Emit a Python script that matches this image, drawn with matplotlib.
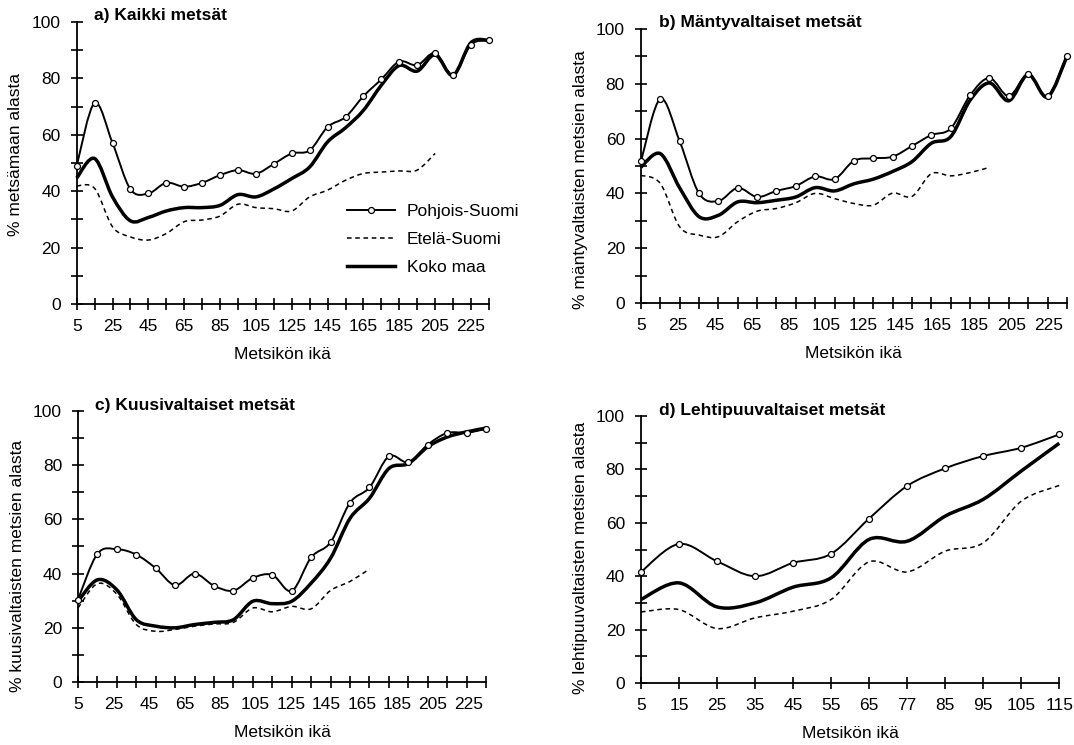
import numpy as np
import matplotlib
matplotlib.use("Agg")
import matplotlib.pyplot as plt
from matplotlib.path import Path
from matplotlib.patches import PathPatch
from matplotlib.lines import Line2D

plt.rcParams["font.family"] = ["Liberation Sans", "DejaVu Sans"]
plt.rcParams["font.size"] = 12.5

# a) all forests, ages 5..235
a_ages = list(range(5, 236, 10))
a_pohjois = [49, 71.3, 57.1, 40.7, 39.2, 43, 41.6, 43, 45.7, 47.5, 46.2, 49.7,
             53.4, 54.5, 62.8, 66.3, 73.7, 79.7, 86, 84.7, 89, 81.3, 92, 93.5]
a_etela = [41.9, 41, 27.4, 23.8, 22.7, 25, 29.2, 29.8, 31.2, 35.4, 34.2, 33.8,
           33, 38, 40.4, 43.9, 46.3, 46.8, 47.2, 47.5, 53.4]
a_koko = [44.7, 51.6, 38, 29.5, 30.7, 33, 34.2, 34.2, 35, 38.8, 38, 40.8,
          44.5, 48.6, 57.5, 62.5, 68.7, 77.6, 84.6, 82.6, 88.4, 81.1, 92.7, 93.5]

# b) pine dominated, ages 5..225
b_ages = list(range(5, 226, 10))
b_pohjois = [51.7, 74.5, 59, 40, 37.2, 42, 38.7, 40.9, 42.7, 46.2, 45.2, 51.9,
             52.8, 53.4, 57.3, 61.3, 63.7, 75.8, 82.1, 75.5, 83.4, 75.5, 90.3]
b_etela = [46.6, 43.6, 27.8, 24.8, 24.2, 29.7, 33.5, 34.5, 36.6, 40, 38.1, 36.3,
           35.7, 40.1, 38.9, 47.2, 46.4, 47.6, 49.5]
b_koko = [49.6, 54.5, 42, 31.5, 32, 36.9, 36.6, 37.5, 38.7, 42.1, 40.9, 43.5,
          45.2, 48, 51.6, 58.3, 60.7, 74, 80.3, 73.8, 83.4, 75.2, 90]

# c) spruce dominated, ages 5..215
c_ages = list(range(5, 216, 10))
c_pohjois = [30.4, 47.3, 49, 47, 42, 35.7, 40, 35.5, 33.7, 38.4, 39.5, 33.6,
             46, 51.6, 66.2, 71.8, 83.3, 81.1, 87.6, 91.9, 92, 93.4]
c_etela = [27.3, 36.3, 32.4, 21.2, 18.7, 19.4, 20.6, 21.4, 22, 27.3, 25.9, 27.9,
           27, 33.8, 37.1, 41.7]
c_koko = [29.8, 37.7, 34, 23, 20.6, 20, 21.2, 22, 23, 29.8, 28.9, 29.8,
          36.5, 45.7, 60.4, 67.8, 78.8, 80.6, 86.8, 90.4, 92.3, 93.7]

# d) broadleaf dominated
d_ages = [5, 15, 25, 35, 45, 55, 65, 77, 85, 95, 105, 115]
d_pohjois = [41.6, 52.1, 45.6, 40, 45, 48.4, 61.6, 73.8, 80.4, 85, 88.1, 93.1]
d_etela = [26.6, 27.5, 20.4, 24.4, 26.9, 31.3, 45.4, 41.6, 49.4, 52.5, 68.1, 74]
d_koko = [31.3, 37.5, 28.5, 30, 35.9, 39.4, 53.8, 53.1, 62.5, 68.8, 79.4, 89.8]

wide_labels = [str(v) for v in range(5, 226, 20)]

series_names = ["Pohjois-Suomi", "Etelä-Suomi", "Koko maa"]

pohjois_style = dict(color="black", lw=1.4)
etela_style = dict(color="black", lw=1.1, linestyle=(0, (3, 2.4)))
koko_style = dict(color="black", lw=2.5)


def smooth_path(xs, ys):
    # excel-like smoothed line as cubic bezier through the points
    pts = np.column_stack([xs, ys]).astype(float)
    n = len(pts)
    verts = [pts[0]]
    codes = [Path.MOVETO]
    for i in range(n - 1):
        p0 = pts[max(i - 1, 0)]
        p1 = pts[i]
        p2 = pts[i + 1]
        p3 = pts[min(i + 2, n - 1)]
        verts += [p1 + (p2 - p0) / 6, p2 - (p3 - p1) / 6, p2]
        codes += [Path.CURVE4] * 3
    return Path(verts, codes)


def draw_line(ax, values, style, markers=False):
    xs = np.arange(len(values))
    patch = PathPatch(smooth_path(xs, values), fill=False, joinstyle="round",
                      clip_on=False, zorder=3, **style)
    ax.add_patch(patch)
    if markers:
        ax.plot(xs, values, "o", ms=4.3, mfc="white", mec="black", mew=0.9,
                clip_on=False, zorder=4)


def setup_axes(ax, n, label_pos, labels, ylabel, title, ylabel_xy):
    ax.set_xlim(0, n - 1)
    ax.set_ylim(0, 100)
    for side in ["top", "right"]:
        ax.spines[side].set_visible(False)
    for side in ["left", "bottom"]:
        ax.spines[side].set_linewidth(1.3)
    ax.set_xticks(label_pos)
    ax.set_xticklabels(labels)
    ax.set_xticks(range(n), minor=True)
    ax.xaxis.remove_overlapping_locs = False
    ax.tick_params(axis="x", which="major", length=0, pad=11)
    ax.tick_params(axis="x", which="minor", direction="inout", length=9, width=1.2)
    ax.set_yticks(range(0, 101, 20))
    ax.set_yticks(range(0, 101, 10), minor=True)
    ax.tick_params(axis="y", which="both", direction="inout", length=9, width=1.2)
    ax.tick_params(axis="y", which="major", pad=7)
    ax.set_xlabel("Metsikön ikä", labelpad=9)
    ax.set_ylabel(ylabel)
    ax.yaxis.set_label_coords(*ylabel_xy)
    ax.text(0.042, 1.022, title, transform=ax.transAxes, fontweight="bold",
            va="center", ha="left")


fig = plt.figure(figsize=(10.74, 7.45), dpi=100)

ax_a = fig.add_axes([0.0714, 0.5919, 0.3838, 0.3785])
ax_b = fig.add_axes([0.5968, 0.5933, 0.3966, 0.3678])
ax_c = fig.add_axes([0.0726, 0.0846, 0.3800, 0.3637])
ax_d = fig.add_axes([0.5968, 0.0832, 0.3895, 0.3584])

panels = [
    (ax_a, a_pohjois, a_etela, a_koko, "% metsämaan alasta", "a) Kaikki metsät"),
    (ax_b, b_pohjois, b_etela, b_koko, "% mäntyvaltaisten metsien alasta",
     "b) Mäntyvaltaiset metsät"),
    (ax_c, c_pohjois, c_etela, c_koko, "% kuusivaltaisten metsien alasta",
     "c) Kuusivaltaiset metsät"),
    (ax_d, d_pohjois, d_etela, d_koko, "% lehtipuuvaltaisten metsien alasta",
     "d) Lehtipuuvaltaiset metsät"),
]
ylabel_coords = [(-0.13, 0.53), (-0.125, 0.45), (-0.13, 0.43), (-0.127, 0.47)]

for (ax, pohjois, etela, koko, ylabel, title), yl in zip(panels, ylabel_coords):
    n = len(pohjois)
    if ax is ax_d:
        label_pos = np.arange(n)
        labels = [str(v) for v in d_ages]
    else:
        # labels spread as on a 24 category axis
        label_pos = np.arange(len(wide_labels)) * 2 * (n - 1) / 23
        labels = wide_labels
    setup_axes(ax, n, label_pos, labels, ylabel, title, yl)
    draw_line(ax, etela, etela_style)
    draw_line(ax, koko, koko_style)
    draw_line(ax, pohjois, pohjois_style, markers=True)

handles = [
    Line2D([], [], marker="o", ms=4.3, mfc="white", mec="black", mew=0.9, **pohjois_style),
    Line2D([], [], **etela_style),
    Line2D([], [], **koko_style),
]
ax_a.legend(handles, series_names, loc="center left", bbox_to_anchor=(0.655, 0.229),
            frameon=False, borderpad=0, borderaxespad=0, handlelength=2.8,
            handletextpad=0.65, labelspacing=0.72)

fig.savefig("out.png", dpi=100)
